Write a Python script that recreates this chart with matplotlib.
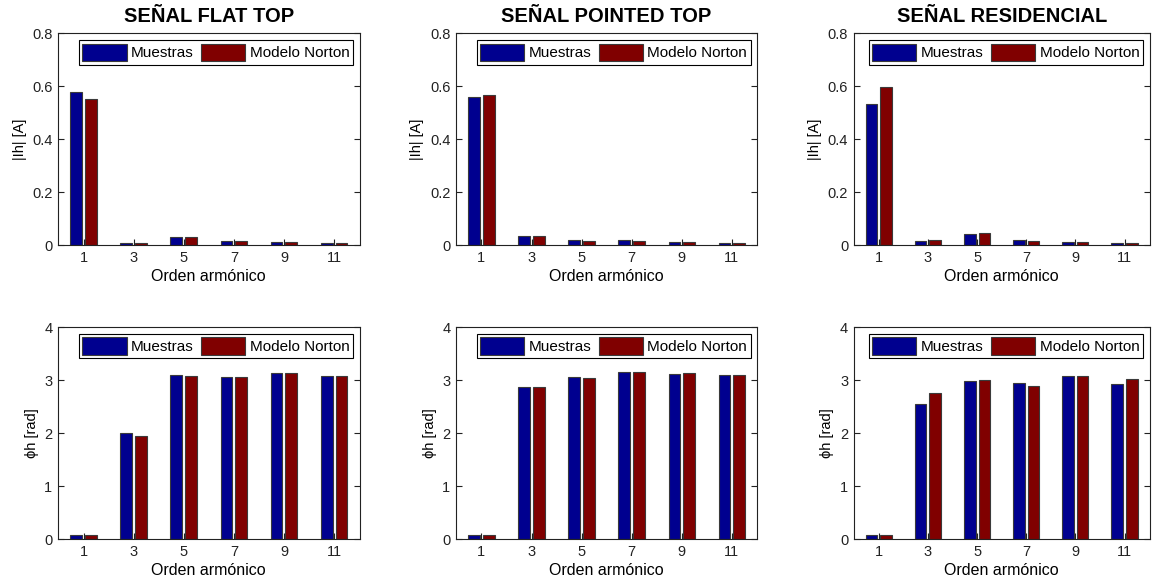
import numpy as np
import matplotlib.pyplot as plt

plt.rcParams['font.family'] = ['Liberation Sans', 'DejaVu Sans']

harmonics = ['1', '3', '5', '7', '9', '11']
titles = ['SEÑAL FLAT TOP', 'SEÑAL POINTED TOP', 'SEÑAL RESIDENCIAL']

# Magnitude of harmonic currents [A]
mag_flat_muestras = [0.577, 0.0075, 0.033, 0.015, 0.011, 0.0075]
mag_flat_norton = [0.552, 0.0075, 0.033, 0.015, 0.011, 0.0075]
mag_pointed_muestras = [0.559, 0.036, 0.019, 0.019, 0.011, 0.0075]
mag_pointed_norton = [0.567, 0.036, 0.015, 0.015, 0.011, 0.0075]
mag_res_muestras = [0.534, 0.015, 0.043, 0.019, 0.011, 0.0075]
mag_res_norton = [0.599, 0.019, 0.046, 0.015, 0.011, 0.0075]

# Phase angle of harmonic currents [rad]
ph_flat_muestras = [0.07, 2.00, 3.09, 3.05, 3.13, 3.08]
ph_flat_norton = [0.07, 1.95, 3.08, 3.05, 3.13, 3.08]
ph_pointed_muestras = [0.07, 2.86, 3.06, 3.15, 3.12, 3.09]
ph_pointed_norton = [0.07, 2.86, 3.04, 3.15, 3.13, 3.09]
ph_res_muestras = [0.07, 2.54, 2.99, 2.95, 3.08, 2.93]
ph_res_norton = [0.07, 2.76, 3.00, 2.88, 3.08, 3.02]

mag_data = [(mag_flat_muestras, mag_flat_norton),
            (mag_pointed_muestras, mag_pointed_norton),
            (mag_res_muestras, mag_res_norton)]
ph_data = [(ph_flat_muestras, ph_flat_norton),
           (ph_pointed_muestras, ph_pointed_norton),
           (ph_res_muestras, ph_res_norton)]

blue = '#00008f'
red = '#800000'
edge = '#3a3a3a'

fig = plt.figure(figsize=(11.6, 5.84), dpi=100)

lefts = [0.050, 0.393, 0.736]
widths = [0.260, 0.260, 0.255]
bottoms = [0.580, 0.077]
height = 0.363

x = np.arange(len(harmonics))
w = 0.235


def draw_panel(ax, muestras, norton, ylim, yticks, yticklabels, ylabel):
    ax.bar(x - 0.148, muestras, w, color=blue, edgecolor=edge, linewidth=0.8, label='Muestras')
    ax.bar(x + 0.148, norton, w, color=red, edgecolor=edge, linewidth=0.8, label='Modelo Norton')
    ax.set_xlim(-0.51, 5.51)
    ax.set_ylim(*ylim)
    ax.set_xticks(x)
    ax.set_xticklabels(harmonics)
    ax.set_yticks(yticks)
    ax.set_yticklabels(yticklabels)
    ax.tick_params(direction='in', length=4, labelsize=10.5, right=True, top=False,
                   colors='#222222', pad=4)
    ax.set_xlabel('Orden armónico', fontsize=11.5, labelpad=3)
    ax.set_ylabel(ylabel, fontsize=10.5, labelpad=4)
    for s in ax.spines.values():
        s.set_linewidth(0.8)
        s.set_color('#222222')
    leg = ax.legend(loc='upper right', ncol=2, fontsize=11, handlelength=2.9, handleheight=1.4,
                    columnspacing=0.45, handletextpad=0.3, borderpad=0.22,
                    borderaxespad=0.45, fancybox=False, framealpha=1)
    leg.get_frame().set_edgecolor('black')
    leg.get_frame().set_linewidth(0.8)


for i in range(3):
    ax = fig.add_axes([lefts[i], bottoms[0], widths[i], height])
    draw_panel(ax, mag_data[i][0], mag_data[i][1], (0, 0.8),
               [0, 0.2, 0.4, 0.6, 0.8], ['0', '0.2', '0.4', '0.6', '0.8'], '|Ih| [A]')
    ax.set_title(titles[i], fontsize=14.5, fontweight='bold', pad=8)

    ax = fig.add_axes([lefts[i], bottoms[1], widths[i], height])
    draw_panel(ax, ph_data[i][0], ph_data[i][1], (0, 4),
               [0, 1, 2, 3, 4], ['0', '1', '2', '3', '4'], 'ϕh [rad]')

fig.savefig('out.png', dpi=100)
